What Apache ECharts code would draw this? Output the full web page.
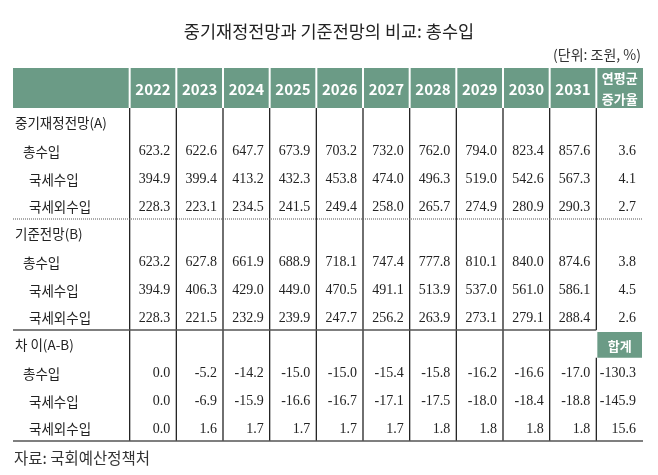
<!DOCTYPE html>
<html><head><meta charset="utf-8">
<script src="https://cdn.jsdelivr.net/npm/echarts@6/dist/echarts.min.js"></script>
<style>html,body{margin:0;padding:0;background:#fff}#c{width:658px;height:475px}</style>
</head><body><div id="c"></div>
<script>
// ---------- data ----------
const titleText = '중기재정전망과 기준전망의 비교: 총수입';
const unitText = '(단위: 조원, %)';
const sourceText = '자료: 국회예산정책처';
const years = ['2022','2023','2024','2025','2026','2027','2028','2029','2030','2031'];
const avgHeader = '연평균\n증가율';
const sumLabel = '합계';
const sectionLabels = ['중기재정전망(A)', '기준전망(B)', '차 이(A-B)'];
const itemLabels = ['총수입', '국세수입', '국세외수입'];

const midTotal  = [623.2, 622.6, 647.7, 673.9, 703.2, 732.0, 762.0, 794.0, 823.4, 857.6];
const midTax    = [394.9, 399.4, 413.2, 432.3, 453.8, 474.0, 496.3, 519.0, 542.6, 567.3];
const midNonTax = [228.3, 223.1, 234.5, 241.5, 249.4, 258.0, 265.7, 274.9, 280.9, 290.3];
const midAvg    = [3.6, 4.1, 2.7];

const baseTotal  = [623.2, 627.8, 661.9, 688.9, 718.1, 747.4, 777.8, 810.1, 840.0, 874.6];
const baseTax    = [394.9, 406.3, 429.0, 449.0, 470.5, 491.1, 513.9, 537.0, 561.0, 586.1];
const baseNonTax = [228.3, 221.5, 232.9, 239.9, 247.7, 256.2, 263.9, 273.1, 279.1, 288.4];
const baseAvg    = [3.8, 4.5, 2.6];

const diffTotal  = [0.0, -5.2, -14.2, -15.0, -15.0, -15.4, -15.8, -16.2, -16.6, -17.0];
const diffTax    = [0.0, -6.9, -15.9, -16.6, -16.7, -17.1, -17.5, -18.0, -18.4, -18.8];
const diffNonTax = [0.0, 1.6, 1.7, 1.7, 1.7, 1.7, 1.8, 1.8, 1.8, 1.8];
const diffSum    = [-130.3, -145.9, 15.6];

// ---------- structure ----------
const sections = [
  { rows: [midTotal, midTax, midNonTax], last: midAvg },
  { rows: [baseTotal, baseTax, baseNonTax], last: baseAvg },
  { rows: [diffTotal, diffTax, diffNonTax], last: diffSum }
];
const LABEL_W = 2.5;               // label column width in data-column units
const NCOL = years.length + 1;     // data columns incl. last
const XMAX = LABEL_W + NCOL;
const NROW = sections.length * 4;

const GREEN = '#6b9b86';
const SANS = "'Noto Sans CJK KR', 'Noto Sans', sans-serif";
const SERIF = "'Liberation Serif', 'DejaVu Serif', serif";

// body text cells
const cells = [];
sections.forEach((sec, s) => {
  const r0 = s * 4;
  cells.push({ x: 0, y: r0 + 0.5, text: sectionLabels[s], align: 'left', dx: 2, dy: 0.5, font: '13.5px ' + SANS });
  sec.rows.forEach((vals, k) => {
    const r = r0 + 1 + k + 0.5;
    cells.push({ x: 0, y: r, text: itemLabels[k], align: 'left', dx: k === 0 ? 10 : 16, dy: 2, font: '13.5px ' + SANS });
    vals.forEach((v, i) => {
      cells.push({ x: LABEL_W + i + 1, y: r, text: v.toFixed(1), align: 'right', dx: -6, dy: 2, font: '14px ' + SERIF });
    });
    cells.push({ x: LABEL_W + NCOL, y: r, text: sec.last[k].toFixed(1), align: 'right', dx: -7, dy: 2, font: '14px ' + SERIF });
  });
});

// body lines
const lines = [];
for (let k = 0; k < NCOL; k++) {
  const x = LABEL_W + k;
  if (k === NCOL - 1) {
    lines.push({ v: [x, 0, x, 8], kind: 'v' });
    lines.push({ v: [x, 9, x, NROW], kind: 'v' });
  } else {
    lines.push({ v: [x, 0, x, NROW], kind: 'v' });
  }
}
lines.push({ v: [0, 4, XMAX, 4], kind: 'dot' });
lines.push({ v: [0, 8, LABEL_W + NCOL - 1, 8], kind: 'h' });
lines.push({ v: [0, NROW, XMAX, NROW], kind: 'h' });

// header columns
const headCols = [{ x0: 0, x1: LABEL_W, text: '' }]
  .concat(years.map((y, i) => ({ x0: LABEL_W + i, x1: LABEL_W + i + 1, text: y })))
  .concat([{ x0: LABEL_W + NCOL - 1, x1: XMAX, text: avgHeader }]);

const chart = echarts.init(document.getElementById('c'), null, { renderer: 'canvas' });
const axisHidden = { show: false };
chart.setOption({
  animation: false,
  title: {
    text: titleText, left: 'center', top: 18,
    textStyle: { fontFamily: SANS, fontSize: 17.5, fontWeight: 'normal', color: '#222' }
  },
  graphic: [
    { type: 'text', right: 17, top: 48, style: { text: unitText, font: '14px ' + SANS, fill: '#333' } },
    { type: 'text', left: 14, top: 450, style: { text: sourceText, font: '15.5px ' + SANS, fill: '#333' } }
  ],
  grid: [
    { left: 13, right: 15, top: 68, height: 40 },
    { left: 13, right: 15, top: 108, height: 333 }
  ],
  xAxis: [
    Object.assign({ type: 'value', min: 0, max: XMAX, gridIndex: 0 }, axisHidden),
    Object.assign({ type: 'value', min: 0, max: XMAX, gridIndex: 1 }, axisHidden)
  ],
  yAxis: [
    Object.assign({ type: 'value', min: 0, max: 1, inverse: true, gridIndex: 0 }, axisHidden),
    Object.assign({ type: 'value', min: 0, max: NROW, inverse: true, gridIndex: 1 }, axisHidden)
  ],
  series: [
    {
      type: 'custom', xAxisIndex: 0, yAxisIndex: 0, clip: false,
      data: headCols.map(c => [c.x0, 0, c.x1, 1]),
      renderItem: function (params, api) {
        const i = params.dataIndex;
        const p0 = api.coord([api.value(0), api.value(1)]);
        const p1 = api.coord([api.value(2), api.value(3)]);
        const l = p0[0] + (i > 0 ? 1 : 0), r = p1[0] - (i < headCols.length - 1 ? 1 : 0);
        const isLast = i === headCols.length - 1;
        return {
          type: 'group',
          children: [
            { type: 'rect', shape: { x: l, y: p0[1], width: r - l, height: p1[1] - p0[1] }, style: { fill: GREEN } },
            { type: 'text', style: {
                x: (p0[0] + p1[0]) / 2, y: (p0[1] + p1[1]) / 2 + 1,
                text: headCols[i].text, fill: '#fff',
                font: 'bold ' + (isLast ? 13 : 15) + 'px ' + SANS,
                lineHeight: 21,
                textAlign: 'center', textVerticalAlign: 'middle', align: 'center', verticalAlign: 'middle'
            } }
          ]
        };
      }
    },
    {
      type: 'custom', xAxisIndex: 1, yAxisIndex: 1, clip: false,
      data: lines.map(l => l.v),
      renderItem: function (params, api) {
        const L = lines[params.dataIndex];
        const p0 = api.coord([api.value(0), api.value(1)]);
        const p1 = api.coord([api.value(2), api.value(3)]);
        const style = L.kind === 'dot'
          ? { stroke: '#555', lineWidth: 1, lineDash: [1, 1] }
          : L.kind === 'v' ? { stroke: '#222', lineWidth: 1.3 } : { stroke: '#555', lineWidth: 1.5 };
        return { type: 'line', shape: { x1: p0[0], y1: p0[1], x2: p1[0], y2: p1[1] }, style: style };
      }
    },
    {
      type: 'custom', xAxisIndex: 1, yAxisIndex: 1, clip: false,
      data: [[LABEL_W + NCOL - 1, 8, XMAX, 9]],
      renderItem: function (params, api) {
        const p0 = api.coord([api.value(0), api.value(1)]);
        const p1 = api.coord([api.value(2), api.value(3)]);
        const l = p0[0] + 1, r = p1[0] - 1, t = p0[1] + 2, b = p1[1];
        return {
          type: 'group',
          children: [
            { type: 'rect', shape: { x: l, y: t, width: r - l, height: b - t }, style: { fill: GREEN } },
            { type: 'text', style: { x: (l + r) / 2, y: (t + b) / 2 + 1, text: sumLabel, fill: '#fff',
              font: 'bold 13px ' + SANS, textAlign: 'center', textVerticalAlign: 'middle', align: 'center', verticalAlign: 'middle' } }
          ]
        };
      }
    },
    {
      type: 'custom', xAxisIndex: 1, yAxisIndex: 1, clip: false,
      data: cells.map(c => [c.x, c.y]),
      renderItem: function (params, api) {
        const c = cells[params.dataIndex];
        const p = api.coord([api.value(0), api.value(1)]);
        return { type: 'text', style: {
          x: p[0] + c.dx, y: p[1] + c.dy, text: c.text, fill: '#222', font: c.font,
          textAlign: c.align, textVerticalAlign: 'middle', align: c.align, verticalAlign: 'middle'
        } };
      }
    }
  ]
});
</script>
</body></html>
